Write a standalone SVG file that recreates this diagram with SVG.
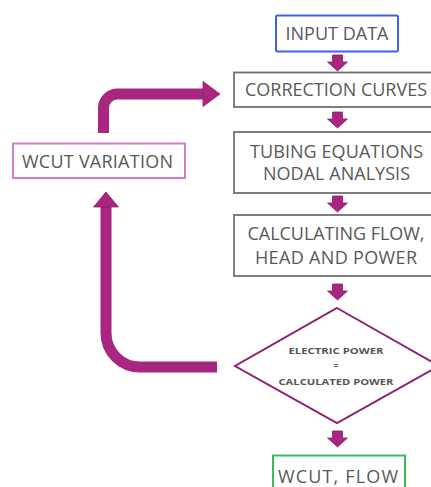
<svg xmlns="http://www.w3.org/2000/svg" width="431" height="487" viewBox="0 0 431 487">
  <style>
    .box { fill: #ffffff; stroke: #707070; stroke-width: 1.8; }
    .lbl { font-family: "Open Sans", "Liberation Sans", sans-serif; font-size: 18px; fill: #585858; text-anchor: middle; }
    .small { font-family: "Open Sans", "Liberation Sans", sans-serif; font-size: 8.5px; font-weight: bold; fill: #555555; text-anchor: middle; }
    .flow { fill: #a8267f; stroke: #8e1f6b; stroke-width: 0.8; }
    .bend { fill: none; stroke: #a8267f; stroke-width: 11; }
  </style>
  <defs>
    <!-- short downward block arrow, tip at (0,16) -->
    <path id="down" d="M-5,0 H5 V7 H10 L0,16 L-10,7 H-5 Z"/>
  </defs>

  <rect width="431" height="487" fill="#ffffff"/>

  <g id="connectors">
    <use href="#down" class="flow" x="337.5" y="55"/>
    <use href="#down" class="flow" x="337.5" y="112"/>
    <use href="#down" class="flow" x="337.5" y="196"/>
    <use href="#down" class="flow" x="337.5" y="284"/>
    <use href="#down" class="flow" x="337.5" y="431"/>

    <!-- feedback loop: decision back to WCUT VARIATION -->
    <path class="bend" d="M217,367 H140 A34,34 0 0 1 106,333 V206"/>
    <polygon class="flow" points="93.5,207 106,192 118.5,207"/>

    <!-- WCUT VARIATION up and over into CORRECTION CURVES -->
    <path class="bend" d="M103.5,133 V108 A14,14 0 0 1 117.5,94 H204"/>
    <polygon class="flow" points="203,81.5 220,94 203,106.5"/>
  </g>

  <g id="input-data">
    <rect x="276" y="15.5" width="122" height="36" rx="1.5" fill="#ffffff" stroke="#3f63e0" stroke-width="2"/>
    <text class="lbl" x="337" y="40" textLength="103">INPUT DATA</text>
  </g>

  <g id="correction-curves">
    <rect class="box" x="234" y="72.5" width="210" height="34.5"/>
    <text class="lbl" x="336" y="96" textLength="182">CORRECTION CURVES</text>
  </g>

  <g id="tubing-equations">
    <rect class="box" x="234" y="132" width="210" height="61"/>
    <text class="lbl" x="336.5" y="158" textLength="173">TUBING EQUATIONS</text>
    <text class="lbl" x="336.5" y="180" textLength="147">NODAL ANALYSIS</text>
  </g>

  <g id="calculating-flow">
    <rect class="box" x="234" y="215" width="210" height="61"/>
    <text class="lbl" x="336" y="240" textLength="177">CALCULATING FLOW,</text>
    <text class="lbl" x="336" y="264" textLength="162">HEAD AND POWER</text>
  </g>

  <g id="power-check">
    <polygon points="337,308 439,366 337,423 235,366" fill="#ffffff" stroke="#8e2270" stroke-width="2"/>
    <text class="small" x="336" y="354" textLength="95" lengthAdjust="spacingAndGlyphs">ELECTRIC POWER</text>
    <text class="small" x="336" y="369">=</text>
    <text class="small" x="336" y="385" textLength="115" lengthAdjust="spacingAndGlyphs">CALCULATED POWER</text>
  </g>

  <g id="wcut-flow">
    <rect x="273" y="455.5" width="132" height="40" fill="#ffffff" stroke="#3dba5a" stroke-width="2"/>
    <text class="lbl" x="338" y="483" textLength="120">WCUT, FLOW</text>
  </g>

  <g id="wcut-variation">
    <rect x="13" y="143.5" width="172" height="34.5" fill="#ffffff" stroke="#d27ccb" stroke-width="2"/>
    <text class="lbl" x="97.5" y="167.5" textLength="151">WCUT VARIATION</text>
  </g>
</svg>
